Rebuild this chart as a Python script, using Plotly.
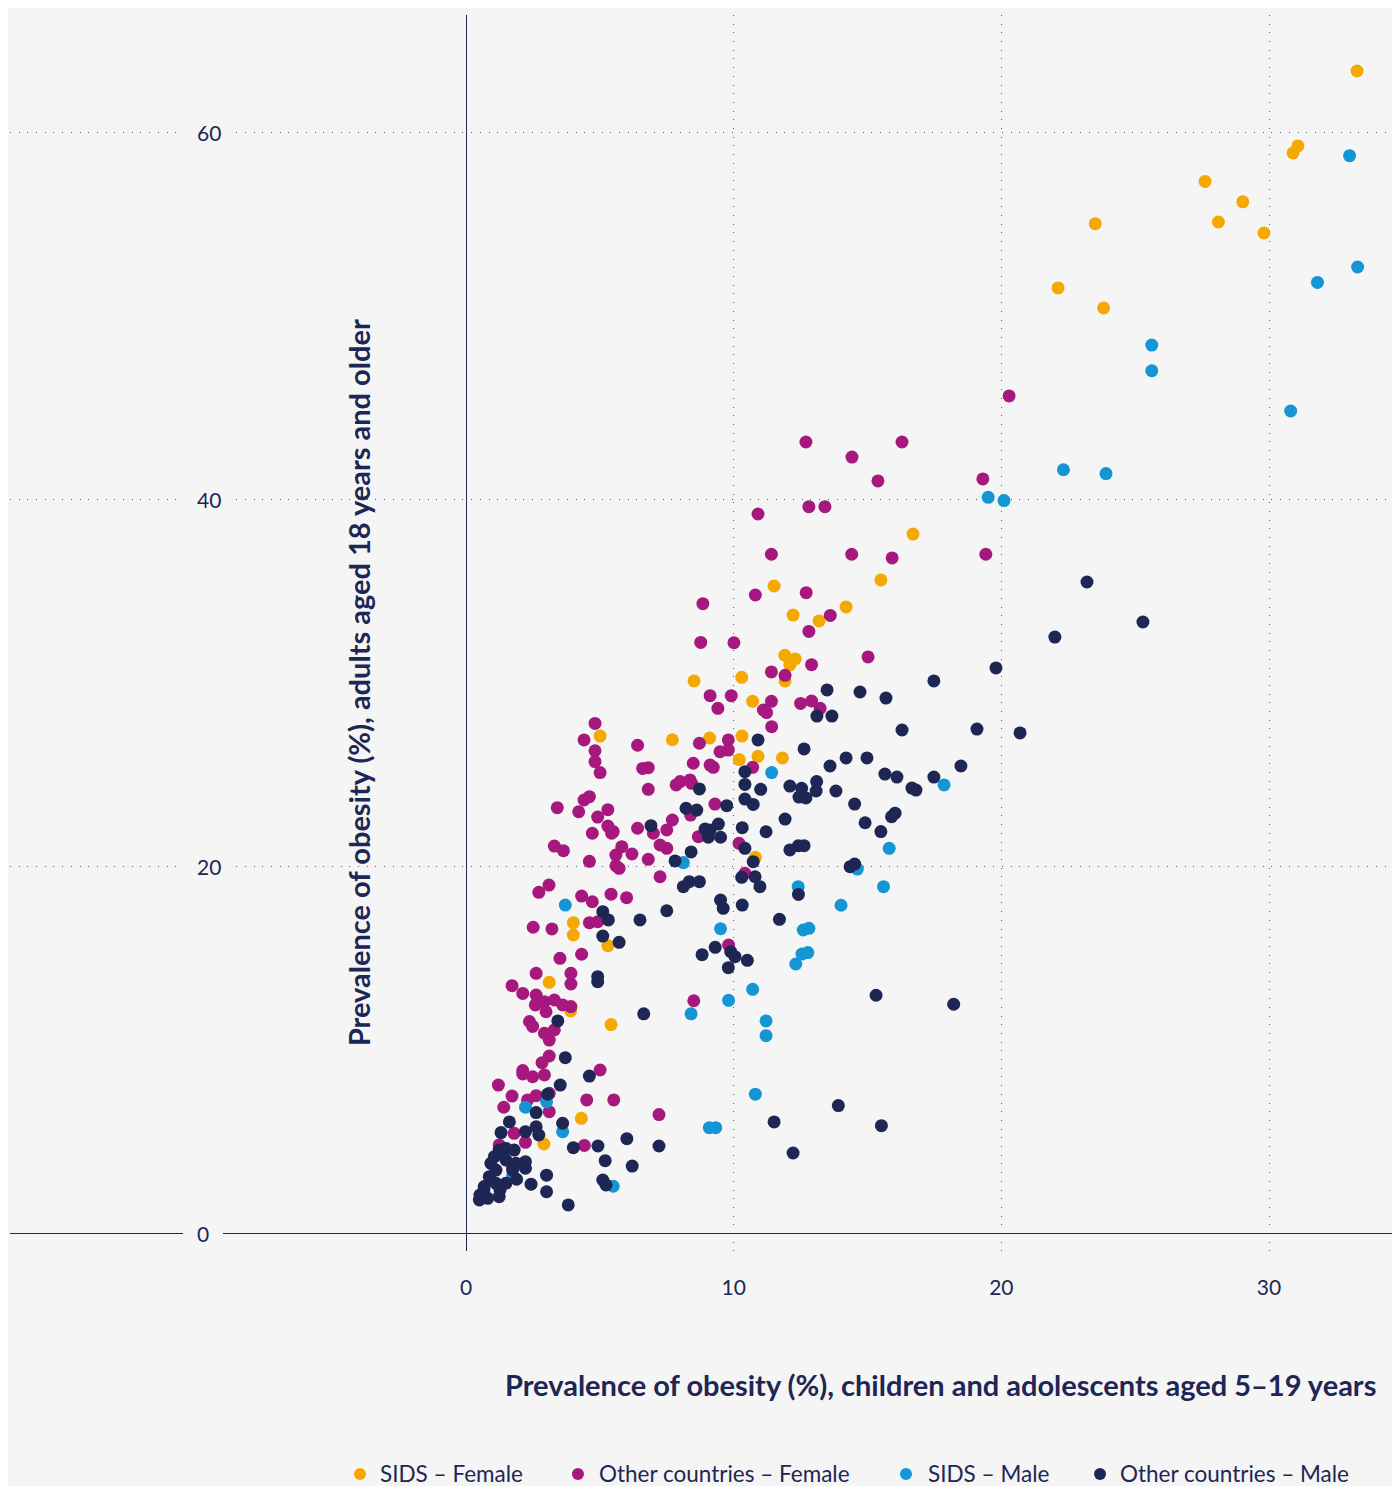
import plotly.graph_objects as go

# ---------------- data ----------------
sids_female_x = [33.29, 31.08, 30.90, 27.61, 29.02, 28.11, 29.81, 23.51, 22.12, 23.82, 16.70, 15.50, 14.20,
                 11.51, 12.22, 13.19, 11.91, 12.30, 12.10, 11.92, 10.30, 10.71, 8.52, 7.71, 9.10, 10.31, 10.21,
                 10.91, 11.82, 10.81, 5.01, 4.01, 4.01, 5.30, 3.11, 3.91, 5.42, 4.31, 2.91]
sids_female_y = [63.32, 59.24, 58.86, 57.31, 56.20, 55.10, 54.50, 55.01, 51.51, 50.42, 38.11, 35.61, 34.14,
                 35.28, 33.70, 33.38, 31.51, 31.31, 30.98, 30.11, 30.31, 29.00, 30.11, 26.91, 27.00, 27.11, 25.83,
                 26.01, 25.92, 20.51, 27.11, 16.95, 16.28, 15.70, 13.70, 12.14, 11.40, 6.30, 4.90]

other_female_x = [20.29, 12.70, 16.29, 14.42, 15.39, 19.31, 12.81, 13.41, 10.91, 11.41, 14.41, 15.92, 19.42,
                  10.81, 12.71, 8.85, 13.61, 12.81, 8.77, 10.01, 15.02, 11.41, 11.92, 12.91, 9.12, 9.91, 9.41,
                  11.41, 11.11, 11.23, 12.50, 12.91, 13.23, 11.42, 8.72, 9.80, 9.49, 9.80, 8.49, 9.12, 9.24,
                  10.71, 7.85, 8.00, 8.37, 8.43, 9.30, 8.39, 7.71, 7.50, 7.25, 7.50, 8.68, 10.20, 7.25, 10.42,
                  9.81, 8.51, 7.21,
                  4.82, 4.41, 4.82, 4.82, 5.01, 6.41, 6.60, 6.81, 6.81, 3.41, 4.41, 4.61, 4.21, 5.30, 4.92,
                  5.30, 5.44, 5.50, 4.72, 6.41, 7.00, 3.30, 3.64, 5.82, 5.60, 6.20, 6.81, 4.61, 5.60, 5.72,
                  3.10, 2.72, 4.32, 4.72, 5.42, 6.00, 2.51, 3.21, 4.61, 4.92, 3.51, 4.32, 2.62, 3.92, 1.72,
                  2.12, 2.62, 2.59, 2.93, 2.99, 3.30, 3.61, 3.92, 3.92, 2.37, 2.49, 2.93, 3.30, 3.11, 3.11,
                  2.84, 2.93, 2.12, 2.12, 2.49, 1.21, 1.72, 1.41, 2.30, 2.62, 3.11, 3.11, 4.51, 5.01, 5.52,
                  1.80, 2.22, 4.42, 1.24, 1.74, 1.31]
other_female_y = [45.63, 43.12, 43.12, 42.30, 41.00, 41.11, 39.60, 39.60, 39.20, 37.01, 37.01, 36.81, 37.01,
                  34.79, 34.92, 34.32, 33.68, 32.81, 32.21, 32.19, 31.42, 30.60, 30.42, 31.00, 29.31, 29.31, 28.62,
                  29.00, 28.53, 28.39, 28.89, 29.02, 28.62, 27.62, 26.72, 26.90, 26.26, 26.35, 25.63, 25.53, 25.41,
                  25.41, 24.45, 24.63, 24.72, 24.54, 23.41, 22.81, 22.54, 22.00, 21.18, 21.00, 21.63, 21.27, 19.45, 19.64,
                  15.73, 12.70, 6.50,
                  27.80, 26.90, 26.31, 25.72, 25.12, 26.61, 25.35, 25.39, 24.21, 23.21, 23.63, 23.81, 22.99, 23.10, 22.70,
                  22.21, 21.82, 21.91, 21.82, 22.09, 21.82, 21.12, 20.87, 21.09, 20.63, 20.69, 20.40, 20.29, 20.05, 19.91,
                  19.00, 18.60, 18.40, 18.09, 18.50, 18.31, 16.70, 16.61, 16.95, 17.00, 15.01, 15.23, 14.19, 14.19, 13.52,
                  13.10, 13.01, 12.47, 12.65, 12.10, 12.74, 12.47, 13.61, 12.38, 11.57, 11.30, 10.93, 11.11, 10.56, 9.69,
                  9.33, 8.66, 8.90, 8.71, 8.56, 8.11, 7.51, 6.90, 7.30, 7.53, 7.66, 6.66, 7.30, 8.93, 7.30,
                  5.48, 4.99, 4.82, 4.85, 3.66, 2.61]

sids_male_x = [33.01, 33.31, 31.81, 25.62, 25.62, 30.81, 22.32, 23.91, 20.10, 19.51, 17.86, 11.42, 15.81,
               14.62, 15.60, 8.12, 12.41, 14.01, 9.51, 12.60, 12.81, 12.77, 12.55, 12.32, 10.71, 9.81, 8.41,
               11.21, 11.21, 10.81, 9.09, 9.33, 3.71, 3.01, 2.22, 3.61, 5.50, 1.74]
sids_male_y = [58.71, 52.65, 51.81, 48.40, 47.00, 44.81, 41.61, 41.40, 39.93, 40.11, 24.45, 25.12, 21.00,
               19.87, 18.91, 20.22, 18.91, 17.90, 16.62, 16.55, 16.64, 15.32, 15.24, 14.70, 13.32, 12.72, 11.99,
               11.60, 10.80, 7.61, 5.79, 5.79, 17.91, 7.20, 6.90, 5.57, 2.60, 3.17]

other_male_x = [23.20, 25.29, 22.00, 19.80, 17.48, 13.49, 14.72, 15.69, 13.11, 13.67, 16.29, 19.09, 20.70,
                10.91, 12.63, 14.98, 14.20, 13.60, 18.49, 15.65, 16.10, 17.48, 16.66, 16.81, 12.10, 13.08, 13.82,
                12.44, 12.70, 14.52, 14.91, 15.50, 15.90, 16.03, 14.52, 14.35,
                15.32, 18.22, 13.91, 15.52,
                6.64, 8.82, 9.31, 9.89, 10.05, 9.80, 10.51, 11.51, 7.21, 12.22,
                10.42, 10.42, 11.01, 12.54, 13.10, 8.72, 10.42, 10.73, 9.74, 8.22, 8.62, 11.92, 9.43, 8.93, 9.12,
                9.05, 9.51, 10.32, 11.21, 10.42, 12.10, 12.42, 12.63, 8.41, 7.81, 10.73, 10.30, 10.80, 10.98, 8.12,
                8.34, 8.72, 12.42, 9.51, 9.61, 10.32, 11.71, 7.50,
                6.91, 6.50, 5.11, 5.32, 5.11, 5.72,
                4.92, 4.92, 3.43, 3.71, 4.61, 3.52, 3.05, 2.62, 1.62, 3.61, 1.31, 2.22, 2.62, 2.72, 4.01, 4.93,
                6.01, 5.20, 6.21, 3.01, 3.01, 2.43, 1.89, 5.11, 5.23, 3.82,
                0.50, 0.81, 1.24, 0.68, 0.87, 1.12, 0.93, 1.24, 1.49, 1.80, 1.87, 2.22, 2.22, 1.49, 1.12, 1.06,
                1.49, 1.74, 0.52, 0.67, 1.27]
other_male_y = [35.50, 33.32, 32.50, 30.82, 30.11, 29.62, 29.51, 29.18, 28.20, 28.20, 27.44, 27.49, 27.28,
                26.90, 26.41, 25.92, 25.92, 25.48, 25.48, 25.04, 24.88, 24.88, 24.28, 24.17, 24.39, 24.12, 24.12,
                23.79, 23.74, 23.41, 22.39, 21.91, 22.72, 22.91, 20.14, 20.00,
                13.00, 12.51, 6.99, 5.90,
                11.99, 15.21, 15.61, 15.37, 15.10, 14.50, 14.90, 6.10, 4.79, 4.41,
                25.17, 24.48, 24.21, 24.27, 24.63, 24.23, 23.68, 23.39, 23.32, 23.18, 23.08, 22.59, 22.32, 22.05, 21.99,
                21.60, 21.60, 22.12, 21.90, 21.00, 20.91, 21.14, 21.14, 20.80, 20.31, 20.27, 19.42, 19.45, 18.91, 18.91,
                19.18, 19.18, 18.49, 18.18, 17.73, 17.91, 17.13, 17.60,
                22.23, 17.10, 17.55, 17.10, 16.22, 15.88,
                14.01, 13.74, 11.60, 9.60, 8.60, 8.11, 7.61, 6.61, 6.10, 6.03, 5.52, 5.57, 5.84, 5.39, 4.70, 4.79,
                5.19, 3.99, 3.70, 3.20, 2.30, 2.71, 2.98, 2.94, 2.67, 1.58,
                1.85, 1.94, 2.03, 2.58, 3.12, 3.48, 3.85, 4.57, 4.66, 4.57, 3.85, 3.94, 3.58, 2.76, 2.76, 4.21,
                4.03, 3.48, 2.12, 2.40, 2.40]

series_names = ["SIDS – Female", "Other countries – Female", "SIDS – Male", "Other countries – Male"]
series_colors = ["#f5a800", "#a6187e", "#1396d3", "#1e2654"]

x_ticks = [0, 10, 20, 30]
y_ticks = [0, 20, 40, 60]

x_title = "Prevalence of obesity (%), children and adolescents aged 5–19 years"
y_title = "Prevalence of obesity (%), adults aged 18 years and older"

# ---------------- figure ----------------
NAVY = "#1d2654"
BG = "#f5f5f5"
FONT = "Lato"
GRID = "rgba(29,38,84,0.75)"
TICK_SIZE = 21

fig = go.Figure()
for name, color, xs, ys in zip(series_names, series_colors,
                               [sids_female_x, other_female_x, sids_male_x, other_male_x],
                               [sids_female_y, other_female_y, sids_male_y, other_male_y]):
    fig.add_trace(go.Scatter(x=xs, y=ys, mode="markers", name=name, showlegend=False,
                             marker=dict(size=13, color=color, line=dict(width=0))))

fig.update_layout(
    width=1392, height=1478,
    margin=dict(l=2, r=0, t=7, b=235, autoexpand=False),
    paper_bgcolor=BG, plot_bgcolor=BG,
    font=dict(family=FONT, color=NAVY, size=TICK_SIZE),
    showlegend=False,
)

fig.update_xaxes(range=[-17.036, 34.894], tickvals=x_ticks, ticktext=[str(v) for v in x_ticks],
                 showgrid=True, gridcolor=GRID, gridwidth=1, griddash="1px,7.7px",
                 zeroline=True, zerolinecolor=NAVY, zerolinewidth=1.2, showline=False,
                 ticks="", ticklabelstandoff=22, tickfont=dict(size=TICK_SIZE, color=NAVY, family=FONT),
                 automargin=False, fixedrange=True)
fig.update_yaxes(range=[-0.926, 66.37], tickvals=y_ticks, showticklabels=False,
                 showgrid=True, gridcolor=GRID, gridwidth=1, griddash="1px,7.7px",
                 zeroline=True, zerolinecolor=NAVY, zerolinewidth=1.2, showline=False,
                 ticks="", automargin=False, fixedrange=True)

# y tick labels with background gap over gridlines
for v in y_ticks:
    fig.add_annotation(x=0.1245, xref="paper", xanchor="left", y=v, yref="y", yanchor="middle",
                       text=str(v), showarrow=False, bgcolor=BG, borderpad=14, borderwidth=0,
                       font=dict(size=TICK_SIZE, color=NAVY, family=FONT))

fig.add_annotation(x=0.2504, xref="paper", y=0.4595, yref="paper", xanchor="center", yanchor="middle",
                   text="<b>" + y_title + "</b>", textangle=-90, showarrow=False,
                   font=dict(size=29, color=NAVY, family=FONT))
fig.add_annotation(x=0.9842, xref="paper", y=-0.1084, yref="paper", xanchor="right", yanchor="middle",
                   text="<b>" + x_title + "</b>", showarrow=False,
                   font=dict(size=29, color=NAVY, family=FONT))

# manual legend (marker circle + text), bottom row
legend_marker_x = [0.2518, 0.4086, 0.6446, 0.7842]
legend_text_x = [0.2647, 0.4223, 0.6590, 0.7971]
leg_y = -0.1804
rx, ry = 6 / 1390, 6 / 1236
for name, color, mx, tx in zip(series_names, series_colors, legend_marker_x, legend_text_x):
    fig.add_shape(type="circle", xref="paper", yref="paper",
                  x0=mx - rx, x1=mx + rx, y0=leg_y - ry, y1=leg_y + ry,
                  fillcolor=color, line=dict(width=0))
    fig.add_annotation(x=tx, xref="paper", y=leg_y, yref="paper", xanchor="left", yanchor="middle",
                       text=name, showarrow=False, font=dict(size=22.5, color=NAVY, family=FONT))

fig.write_html("out.html")
